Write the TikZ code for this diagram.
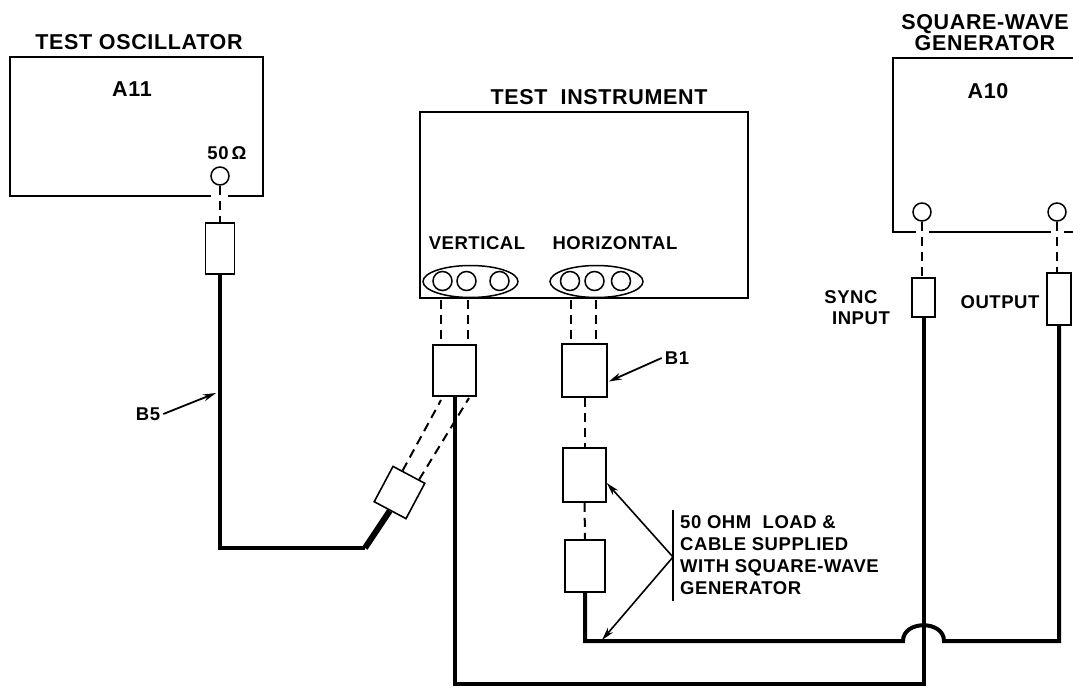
\documentclass[tikz,border=0pt]{standalone}
\usepackage{fontspec}
\setmainfont{Liberation Sans}
\newfontfamily\lbl[LetterSpace=3]{Liberation Sans}
\usetikzlibrary{shapes.geometric,arrows.meta,calc}
\begin{document}
\begin{tikzpicture}[x=1pt,y=-1pt,
  outline/.style={line width=1.6pt},
  plug/.style={draw,line width=1.6pt,rectangle,inner sep=0pt},
  port/.style={draw,line width=1.5pt,circle,inner sep=0pt,minimum size=18pt},
  jack/.style={draw,line width=1.5pt,circle,inner sep=0pt,minimum size=19pt},
  grp/.style={draw,line width=1.5pt,ellipse,inner sep=0pt},
  dashline/.style={line width=2pt,dash pattern=on 9pt off 6pt},
  cable/.style={line width=4pt,line join=miter},
  title/.style={font=\lbl\bfseries\fontsize{21.5}{23}\selectfont,inner sep=0pt},
  txt/.style={font=\lbl\bfseries\fontsize{18.5}{21}\selectfont,inner sep=0pt},
  pointer/.style={line width=1.8pt,-{Stealth[length=13pt,width=7pt]}}
]
\useasboundingbox (0,0) rectangle (1073,688);

% ---------- Test oscillator ----------
\node[title] (osct) at (139,42) {TEST OSCILLATOR};
\node[minimum width=253pt,minimum height=139pt] (osc) at (136.5,126.5) {};
\draw[outline] (211,196) -- (10,196) -- (10,57) -- (263,57) -- (263,196) -- (228,196);
\node[title] (a11) at (132,89) {A11};
\node[txt] (ohm) at (227,153) {50\,Ω};
\node[port] (oscp) at (220,176) {};
\node[plug,minimum width=29pt,minimum height=51pt] (oscc) at (220,248.5) {};
\draw[dashline] (oscp.south) -- (oscc.north);

% ---------- Test instrument ----------
\node[title] (instt) at (599,97) {TEST\ \ INSTRUMENT};
\node[draw,outline,minimum width=328pt,minimum height=186pt] (inst) at (584,205) {};
\node[txt] (vert) at (477,243) {VERTICAL};
\node[txt] (horz) at (615,243) {HORIZONTAL};
\node[grp,minimum width=95pt,minimum height=32pt] (vg) at (470.5,281.5) {};
\node[jack] (v1) at (442.5,281) {};
\node[jack] (v2) at (466.5,281) {};
\node[jack] (v3) at (499.5,281) {};
\node[grp,minimum width=93pt,minimum height=32pt] (hg) at (596.5,281.5) {};
\node[jack] (h1) at (570,281) {};
\node[jack] (h2) at (594.5,281) {};
\node[jack] (h3) at (621,281) {};

\node[plug,minimum width=43pt,minimum height=51pt] (vc) at (454.5,370.5) {};
\node[plug,minimum width=45pt,minimum height=53pt] (b1) at (584.5,370.5) {};
\draw[dashline] (441,300) -- (vc.north -| 441,0);
\draw[dashline] (468,300) -- (vc.north -| 468,0);
\draw[dashline] (571,300) -- (b1.north -| 571,0);
\draw[dashline] (596,300) -- (b1.north -| 596,0);

\node[txt] (b1t) at (677,358) {B1};
\draw[pointer] (b1t.west) ++(-3,0) -- ($(b1.east)+(1,11)$);

% ---------- Load and cable ----------
\node[plug,minimum width=43pt,minimum height=54pt] (ld1) at (584.5,475) {};
\node[plug,minimum width=40pt,minimum height=52pt] (ld2) at (585,566) {};
\draw[dashline] (b1.south) -- (ld1.north);
\draw[dashline] (ld1.south) -- (ld2.north);

\node[txt,anchor=west,align=left] (note) at (680,555)
  {50 OHM\ \ LOAD \&\\[1pt]CABLE SUPPLIED\\[1pt]WITH SQUARE-WAVE\\[1pt]GENERATOR};
\coordinate (bar) at (673,557);
\draw[line width=1.6pt] (673,510) -- (673,601);
\draw[pointer,line width=1.6pt] (bar) -- (ld1.east |- 0,483);
\draw[pointer,line width=1.6pt] (bar) -- (602,640);

% ---------- Square-wave generator ----------
\node[title,align=center] (gent) at (985,33) {SQUARE-WAVE\\[-2pt]GENERATOR};
\node[minimum width=180pt,minimum height=174pt] (gen) at (983,145) {};
\draw[outline] (916,232) -- (893,232) -- (893,58) -- (1080,58);
\draw[outline] (929,232) -- (1051,232);
\draw[outline] (1064,232) -- (1080,232);
\node[title] (a10) at (988,91) {A10};
\node[port] (syp) at (922,212) {};
\node[port] (outp) at (1057,212) {};
\node[plug,minimum width=23pt,minimum height=39pt] (syc) at (923.5,297.5) {};
\node[plug,minimum width=24pt,minimum height=52pt] (outc) at (1059,299) {};
\draw[dashline] (syp.south) -- (syp.south |- syc.north);
\draw[dashline] (outp.south) -- (outp.south |- outc.north);
\node[txt] (sync) at (851,297) {SYNC};
\node[txt] (input) at (861,318) {INPUT};
\node[txt] (outt) at (1000,302) {OUTPUT};

% ---------- Adapter and B5 cable ----------
\node[plug,minimum width=36pt,minimum height=40pt,rotate=-28] (adp) at (399.5,492.5) {};
\coordinate (c1) at (217,548);
\coordinate (c2) at (365,548);
\draw[line width=6pt] (adp.south) -- (c2);
\draw[cable] (oscc.south) -- (oscc.south |- c1) -- (c2);
\draw[dashline] ($(adp.north west)!0.3!(adp.north east)$) -- (441,400);
\draw[dashline] ($(adp.north west)!0.8!(adp.north east)$) -- (469,398);
\node[txt] (b5) at (148,414) {B5};
\draw[pointer] (b5.east) ++(3,0) -- (216,393);

% ---------- Cables to generator ----------
\coordinate (v1c) at (454,684);
\draw[cable] (vc.south) -- (vc.south |- v1c) -- (syc.south |- v1c) -- (syc.south);
\coordinate (l1) at (585,641);
\coordinate (l2) at (1059,641);
\draw[cable] (ld2.south) -- (l1) -- (903,641)
  .. controls (903,620) and (944,620) .. (944,641) -- (l2) -- (outc.south);
\end{tikzpicture}
\end{document}
